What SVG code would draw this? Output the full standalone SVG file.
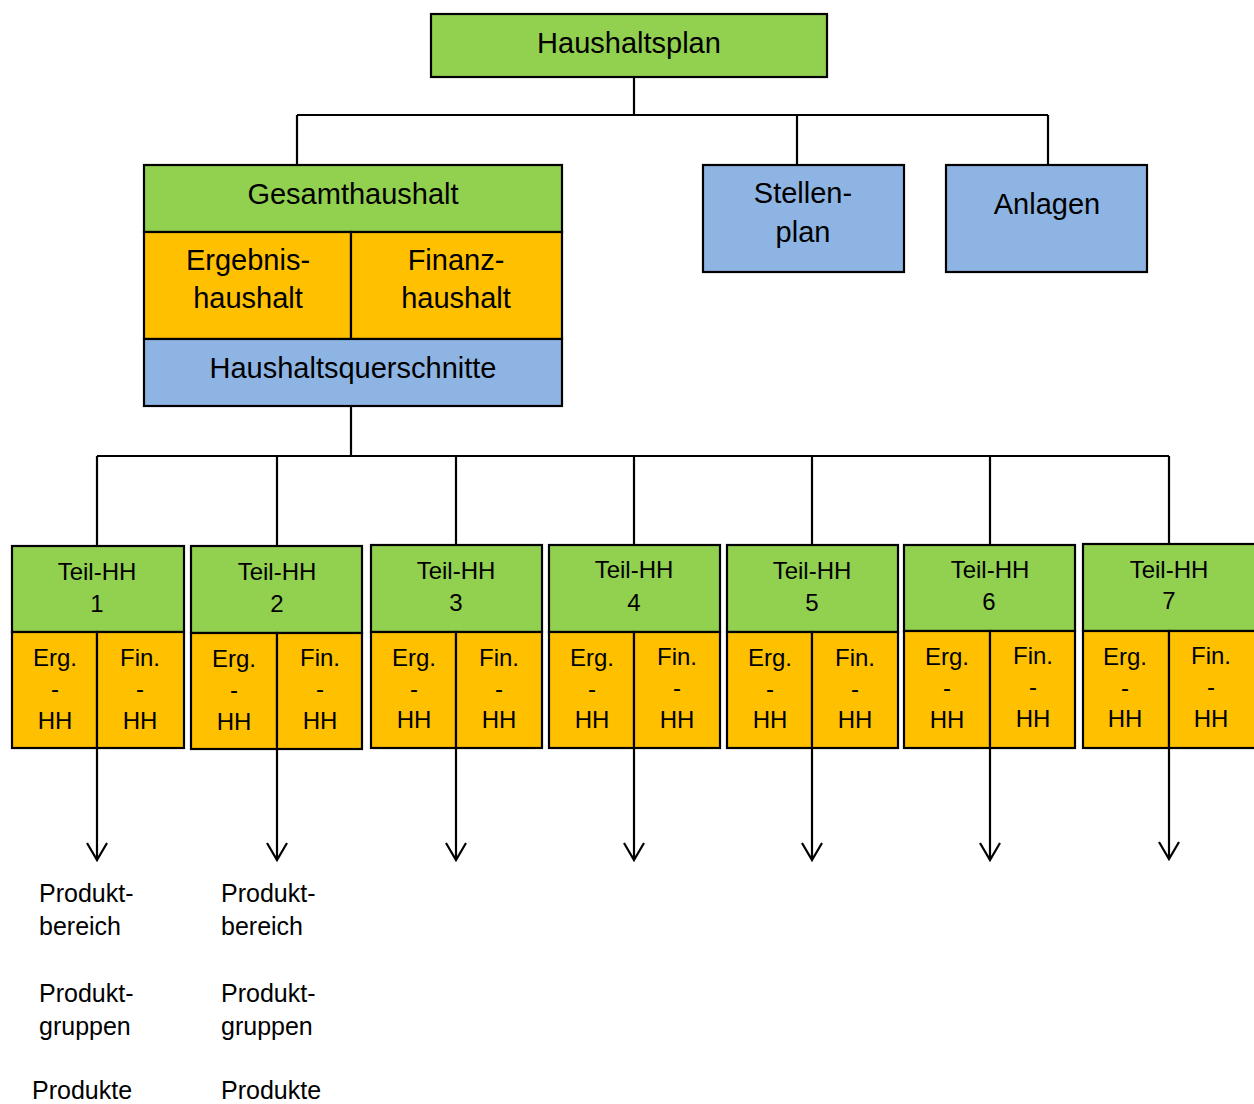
<svg xmlns="http://www.w3.org/2000/svg" width="1254" height="1104" viewBox="0 0 1254 1104">
<style>
.n rect{stroke:#000;stroke-width:2.2}
.g{fill:#92D050}.o{fill:#FFC000}.b{fill:#8EB4E3}
text{font-family:"Liberation Sans",Arial,sans-serif;fill:#000;text-anchor:middle}
.L{font-size:29px}.S{font-size:24px}.P{font-size:25px;text-anchor:start}
.c{fill:none;stroke:#000;stroke-width:2.2}
</style>
<rect width="1254" height="1104" fill="#fff"/>
<g id="connectors" class="c">
<path d="M634 77V115M297 115H1048M297 115V165M797 115V165M1048 115V165"/>
<path d="M351 406V456M97 456H1169M97 456V546M277 456V546M456 456V545M634 456V545M812 456V545M990 456V545M1169 456V545"/>
<path d="M97 748V860M87 843L97 860L107 843"/>
<path d="M277 749V860M267 843L277 860L287 843"/>
<path d="M456 748V860M446 843L456 860L466 843"/>
<path d="M634 748V860M624 843L634 860L644 843"/>
<path d="M812 748V860M802 843L812 860L822 843"/>
<path d="M990 748V860M980 843L990 860L1000 843"/>
<path d="M1169 748V859M1159 842L1169 859L1179 842"/>
</g>
<g id="haushaltsplan" class="n"><rect class="g" x="431" y="14" width="396" height="63"/><text class="L" x="629" y="53">Haushaltsplan</text></g>
<g id="gesamthaushalt" class="n"><rect class="g" x="144" y="165" width="418" height="67"/><text class="L" x="353" y="204">Gesamthaushalt</text></g>
<g id="ergebnishaushalt" class="n"><rect class="o" x="144" y="232" width="207" height="107"/><text class="L" x="248" y="270">Ergebnis-</text><text class="L" x="248" y="308">haushalt</text></g>
<g id="finanzhaushalt" class="n"><rect class="o" x="351" y="232" width="211" height="107"/><text class="L" x="456" y="270">Finanz-</text><text class="L" x="456" y="308">haushalt</text></g>
<g id="haushaltsquerschnitte" class="n"><rect class="b" x="144" y="339" width="418" height="67"/><text class="L" x="353" y="378">Haushaltsquerschnitte</text></g>
<g id="stellenplan" class="n"><rect class="b" x="703" y="165" width="201" height="107"/><text class="L" x="803" y="203">Stellen-</text><text class="L" x="803" y="242">plan</text></g>
<g id="anlagen" class="n"><rect class="b" x="946" y="165" width="201" height="107"/><text class="L" x="1047" y="214">Anlagen</text></g>

<g id="teilhh1" class="n"><rect class="g" x="12" y="546" width="172" height="86"/><rect class="o" x="12" y="632" width="85" height="116"/><rect class="o" x="97" y="632" width="87" height="116"/>
<text class="S" x="97" y="580">Teil-HH</text><text class="S" x="97" y="612">1</text>
<text class="S" x="55" y="666">Erg.</text><text class="S" x="55" y="697">-</text><text class="S" x="55" y="729">HH</text>
<text class="S" x="140" y="666">Fin.</text><text class="S" x="140" y="697">-</text><text class="S" x="140" y="729">HH</text></g>
<g id="teilhh2" class="n"><rect class="g" x="191" y="546" width="171" height="87"/><rect class="o" x="191" y="633" width="86" height="116"/><rect class="o" x="277" y="633" width="85" height="116"/>
<text class="S" x="277" y="580">Teil-HH</text><text class="S" x="277" y="612">2</text>
<text class="S" x="234" y="667">Erg.</text><text class="S" x="234" y="698">-</text><text class="S" x="234" y="730">HH</text>
<text class="S" x="320" y="666">Fin.</text><text class="S" x="320" y="697">-</text><text class="S" x="320" y="729">HH</text></g>
<g id="teilhh3" class="n"><rect class="g" x="371" y="545" width="171" height="87"/><rect class="o" x="371" y="632" width="85" height="116"/><rect class="o" x="456" y="632" width="86" height="116"/>
<text class="S" x="456" y="579">Teil-HH</text><text class="S" x="456" y="611">3</text>
<text class="S" x="414" y="666">Erg.</text><text class="S" x="414" y="697">-</text><text class="S" x="414" y="728">HH</text>
<text class="S" x="499" y="666">Fin.</text><text class="S" x="499" y="697">-</text><text class="S" x="499" y="728">HH</text></g>
<g id="teilhh4" class="n"><rect class="g" x="549" y="545" width="171" height="87"/><rect class="o" x="549" y="632" width="85" height="116"/><rect class="o" x="634" y="632" width="86" height="116"/>
<text class="S" x="634" y="578">Teil-HH</text><text class="S" x="634" y="611">4</text>
<text class="S" x="592" y="666">Erg.</text><text class="S" x="592" y="697">-</text><text class="S" x="592" y="728">HH</text>
<text class="S" x="677" y="665">Fin.</text><text class="S" x="677" y="696">-</text><text class="S" x="677" y="728">HH</text></g>
<g id="teilhh5" class="n"><rect class="g" x="727" y="545" width="171" height="87"/><rect class="o" x="727" y="632" width="85" height="116"/><rect class="o" x="812" y="632" width="86" height="116"/>
<text class="S" x="812" y="579">Teil-HH</text><text class="S" x="812" y="611">5</text>
<text class="S" x="770" y="666">Erg.</text><text class="S" x="770" y="697">-</text><text class="S" x="770" y="728">HH</text>
<text class="S" x="855" y="666">Fin.</text><text class="S" x="855" y="697">-</text><text class="S" x="855" y="728">HH</text></g>
<g id="teilhh6" class="n"><rect class="g" x="904" y="545" width="171" height="86"/><rect class="o" x="904" y="631" width="86" height="117"/><rect class="o" x="990" y="631" width="85" height="117"/>
<text class="S" x="990" y="578">Teil-HH</text><text class="S" x="989" y="610">6</text>
<text class="S" x="947" y="665">Erg.</text><text class="S" x="947" y="696">-</text><text class="S" x="947" y="728">HH</text>
<text class="S" x="1033" y="664">Fin.</text><text class="S" x="1033" y="695">-</text><text class="S" x="1033" y="727">HH</text></g>
<g id="teilhh7" class="n"><rect class="g" x="1083" y="544" width="174" height="87"/><rect class="o" x="1083" y="631" width="86" height="117"/><rect class="o" x="1169" y="631" width="88" height="117"/>
<text class="S" x="1169" y="578">Teil-HH</text><text class="S" x="1169" y="609">7</text>
<text class="S" x="1125" y="665">Erg.</text><text class="S" x="1125" y="696">-</text><text class="S" x="1125" y="727">HH</text>
<text class="S" x="1211" y="664">Fin.</text><text class="S" x="1211" y="695">-</text><text class="S" x="1211" y="727">HH</text></g>

<g id="produkte1">
<text class="P" x="39" y="902">Produkt-</text><text class="P" x="39" y="935">bereich</text>
<text class="P" x="39" y="1002">Produkt-</text><text class="P" x="39" y="1035">gruppen</text>
<text class="P" x="32" y="1099">Produkte</text></g>
<g id="produkte2">
<text class="P" x="221" y="902">Produkt-</text><text class="P" x="221" y="935">bereich</text>
<text class="P" x="221" y="1002">Produkt-</text><text class="P" x="221" y="1035">gruppen</text>
<text class="P" x="221" y="1099">Produkte</text></g>
</svg>
